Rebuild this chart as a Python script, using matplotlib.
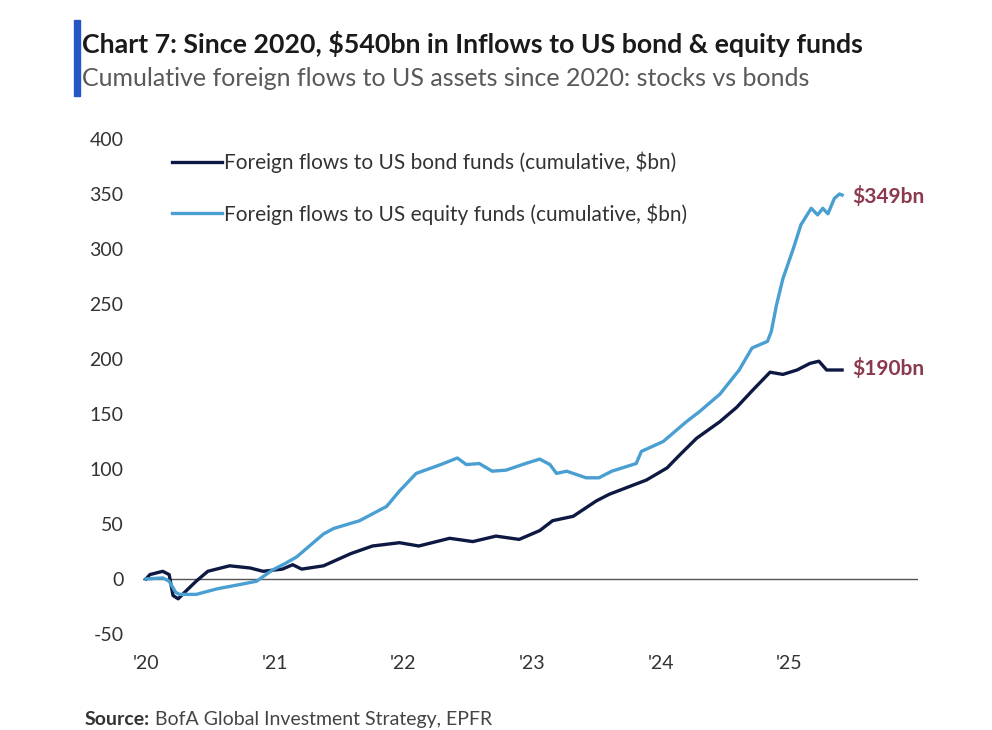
import matplotlib
matplotlib.use("Agg")
import matplotlib.pyplot as plt
from matplotlib.patches import Rectangle

plt.rcParams['font.family'] = ['Lato', 'DejaVu Sans']
plt.rcParams['axes.unicode_minus'] = False

# Cumulative foreign flows, $bn (decimal years)
bond_t = [2020.00, 2020.03, 2020.13, 2020.18, 2020.21, 2020.25, 2020.31, 2020.39,
          2020.48, 2020.65, 2020.81, 2020.91, 2021.06, 2021.14, 2021.21, 2021.38,
          2021.59, 2021.76, 2021.97, 2022.12, 2022.36, 2022.54, 2022.72, 2022.90,
          2023.06, 2023.16, 2023.32, 2023.50, 2023.60, 2023.89, 2024.05, 2024.15,
          2024.28, 2024.46, 2024.59, 2024.71, 2024.85, 2024.95, 2025.06, 2025.16,
          2025.23, 2025.29, 2025.41]
bond_v = [0, 4, 7, 4, -15, -18, -11, -2,
          7, 12, 10, 7, 9, 13, 9, 12,
          23, 30, 33, 30, 37, 34, 39, 36,
          44, 53, 57, 71, 77, 90, 101, 113,
          128, 143, 156, 171, 188, 186, 190, 196,
          198, 190, 190]

equity_t = [2020.00, 2020.13, 2020.18, 2020.23, 2020.26, 2020.39, 2020.55, 2020.73,
            2020.86, 2020.92, 2020.98, 2021.08, 2021.17, 2021.27, 2021.38, 2021.46,
            2021.66, 2021.87, 2021.97, 2022.10, 2022.29, 2022.42, 2022.49, 2022.59,
            2022.69, 2022.80, 2022.95, 2023.06, 2023.14, 2023.19, 2023.27, 2023.42,
            2023.52, 2023.62, 2023.81, 2023.85, 2024.02, 2024.20, 2024.30, 2024.46,
            2024.61, 2024.71, 2024.83, 2024.86, 2024.90, 2024.95, 2025.03, 2025.09,
            2025.17, 2025.22, 2025.26, 2025.30, 2025.35, 2025.39, 2025.41]
equity_v = [0, 1, -2, -12, -14, -14, -9, -5,
            -2, 3, 8, 14, 20, 30, 41, 46,
            53, 66, 80, 96, 104, 110, 104, 105,
            98, 99, 105, 109, 104, 96, 98, 92,
            92, 98, 105, 116, 125, 143, 152, 168,
            190, 210, 216, 225, 249, 273, 300, 322,
            337, 331, 337, 332, 346, 350, 349]

year_ticks = [2020, 2021, 2022, 2023, 2024, 2025]
year_labels = ["'20", "'21", "'22", "'23", "'24", "'25"]
y_ticks = [-50, 0, 50, 100, 150, 200, 250, 300, 350, 400]

bond_color = '#0d1942'
equity_color = '#4a9fd2'
label_color = '#8b3a4e'
text_color = '#333333'


def main():
    fig = plt.figure(figsize=(9.92, 7.3), dpi=100)
    ax = fig.add_axes([0.1442, 0.1315, 0.7812, 0.6781])

    ax.plot(bond_t, bond_v, color=bond_color, lw=2.4,
            label='Foreign flows to US bond funds (cumulative, $bn)')
    ax.plot(equity_t, equity_v, color=equity_color, lw=2.4,
            label='Foreign flows to US equity funds (cumulative, $bn)')
    ax.axhline(0, color='#555555', lw=1.0, zorder=0)

    ax.set_xlim(2019.977, 2026.0)
    ax.set_ylim(-50, 400)
    ax.set_xticks(year_ticks)
    ax.set_xticklabels(year_labels)
    ax.set_yticks(y_ticks)
    ax.tick_params(length=0, labelsize=14, colors=text_color)
    ax.tick_params(axis='x', pad=15)
    ax.tick_params(axis='y', pad=14)
    for s in ax.spines.values():
        s.set_visible(False)

    ax.legend(loc='upper left', bbox_to_anchor=(0.013, 1.013), frameon=False,
              fontsize=15, handlelength=2.4, handletextpad=0.1,
              labelspacing=1.45, labelcolor=text_color)

    # end labels
    ax.annotate('$349bn', (equity_t[-1], equity_v[-1]), xytext=(7, -1),
                textcoords='offset points', va='center', ha='left',
                color=label_color, fontsize=15, fontweight='bold')
    ax.annotate('$190bn', (bond_t[-1], bond_v[-1]), xytext=(7, 1),
                textcoords='offset points', va='center', ha='left',
                color=label_color, fontsize=15, fontweight='bold')

    # header
    fig.patches.append(Rectangle((0.075, 0.868), 0.0055, 0.105,
                                 transform=fig.transFigure, color='#2456c4'))
    fig.text(0.083, 0.94, 'Chart 7: Since 2020, $540bn in Inflows to US bond & equity funds',
             fontsize=19.25, fontweight='bold', color='#1a1a1a', va='center')
    fig.text(0.083, 0.893, 'Cumulative foreign flows to US assets since 2020: stocks vs bonds',
             fontsize=18, color='#595959', va='center')

    # footer
    src = fig.text(0.085, 0.0137, 'Source:', fontsize=14, fontweight='bold',
                   color=text_color, va='center')
    fig.canvas.draw()
    bb = src.get_window_extent()
    fig.text(bb.x1 / fig.bbox.width + 0.006, 0.0137,
             'BofA Global Investment Strategy, EPFR', fontsize=14,
             color='#444444', va='center')

    fig.savefig('out.png', dpi=100)


if __name__ == "__main__":
    main()
